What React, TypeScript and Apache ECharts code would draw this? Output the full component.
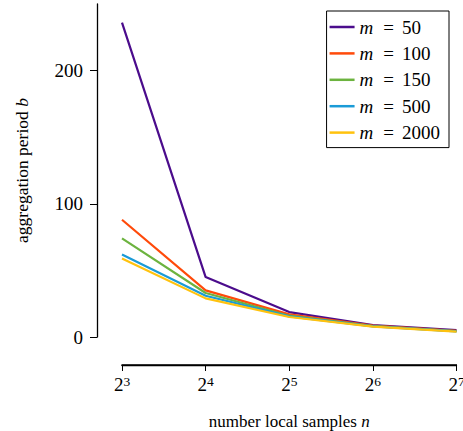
import React, { useEffect, useRef } from "react";
import * as echarts from "echarts";

const exponents = [3, 4, 5, 6, 7]; // n = 2^k
const seriesNames = ["50", "100", "150", "500", "2000"];
const seriesColors = ["#4b0c8c", "#ff4a0a", "#6cb33f", "#1a9bd7", "#ffc20e"];
const m50 = [236, 45, 18.7, 9, 5.2];
const m100 = [88, 35, 17, 8.6, 4.6];
const m150 = [74, 33, 16, 8.2, 4.4];
const m500 = [62, 31, 15.5, 8, 4.2];
const m2000 = [59, 29, 15, 7.8, 4];
const seriesValues = [m50, m100, m150, m500, m2000];
const yTicks = [0, 100, 200];
const X_OFFSET = 28;

const FONT = "'Liberation Serif', serif";

export default function App() {
  const ref = useRef<HTMLDivElement>(null);
  useEffect(() => {
    document.body.style.margin = "0";
    const chart = echarts.init(ref.current!, null, { renderer: "svg" });
    chart.setOption({
      animation: false,
      textStyle: { fontFamily: FONT, color: "#000" },
      grid: { left: 122, right: 6.5, top: 4, bottom: 94, outerBoundsMode: "none", containLabel: false },
      legend: {
        orient: "vertical",
        right: 14,
        top: 11,
        padding: [6, 9, 5, 3],
        borderColor: "#000",
        borderWidth: 1,
        borderRadius: 0,
        icon: "rect",
        itemWidth: 25,
        itemHeight: 2.5,
        itemGap: 6.4,
        data: seriesNames.map((n) => "m = " + n),
        formatter: (name: string) => "{i|m}{e|=}" + name.split("= ")[1],
        textStyle: {
          fontFamily: FONT,
          fontSize: 19,
          color: "#000",
          lineHeight: 20,
          rich: {
            i: { fontFamily: FONT, fontSize: 19, fontStyle: "italic", lineHeight: 20 },
            e: { fontFamily: FONT, fontSize: 19, lineHeight: 20, padding: [0, 8, 0, 10] },
          },
        },
      },
      xAxis: {
        type: "value",
        min: 3,
        max: 7,
        interval: 1,
        offset: X_OFFSET,
        splitLine: { show: false },
        axisLine: { show: true, onZero: false, lineStyle: { color: "#000", width: 1.3 } },
        axisTick: { show: true, length: 6, lineStyle: { color: "#000", width: 1 } },
        axisLabel: {
          margin: 9,
          formatter: (v: number) => "{b|2}{s|" + v + "}",
          rich: {
            b: { fontFamily: FONT, fontSize: 19, color: "#000", lineHeight: 20, verticalAlign: "bottom" },
            s: { fontFamily: FONT, fontSize: 13.5, color: "#000", lineHeight: 20, verticalAlign: "top" },
          },
        },
        name: "number local samples {i|n}",
        nameLocation: "middle",
        nameGap: 48,
        nameTextStyle: {
          fontFamily: FONT,
          fontSize: 17,
          color: "#000",
          rich: { i: { fontFamily: FONT, fontSize: 17, fontStyle: "italic" } },
        },
      },
      yAxis: {
        type: "value",
        min: 0,
        max: 250,
        offset: 25,
        splitLine: { show: false },
        axisLine: { show: true, onZero: false, lineStyle: { color: "#000", width: 1.3 } },
        axisTick: { show: true, length: 7, customValues: yTicks, lineStyle: { color: "#000", width: 1 } },
        axisLabel: {
          margin: 14,
          customValues: yTicks,
          fontFamily: FONT,
          fontSize: 19,
          color: "#000",
        },
        name: "aggregation period {i|b}",
        nameLocation: "middle",
        nameGap: 66,
        nameTextStyle: {
          fontFamily: FONT,
          fontSize: 17.5,
          color: "#000",
          rich: { i: { fontFamily: FONT, fontSize: 17.5, fontStyle: "italic" } },
        },
      },
      series: seriesValues.map((vals, i) => ({
        name: "m = " + seriesNames[i],
        type: "line",
        symbol: "none",
        color: seriesColors[i],
        lineStyle: { width: 2.2, color: seriesColors[i] },
        data: vals.map((v, j) => [exponents[j], v]),
      })),
    });
    // x-axis spine drawn from the axis scale (ensures visibility of the detached spine)
    const pA = chart.convertToPixel({ gridIndex: 0 }, [exponents[0], 0]) as number[];
    const pB = chart.convertToPixel({ gridIndex: 0 }, [exponents[exponents.length - 1], 0]) as number[];
    const yLine = Math.round(pA[1] + X_OFFSET);
    chart.setOption({
      graphic: [
        {
          type: "line",
          z: 100,
          shape: { x1: pA[0] - 0.5, y1: yLine, x2: pB[0] + 0.5, y2: yLine },
          style: { stroke: "#000", lineWidth: 1.4 },
        },
      ],
    });
    return () => chart.dispose();
  }, []);
  return <div ref={ref} style={{ width: 463, height: 431 }} />;
}
